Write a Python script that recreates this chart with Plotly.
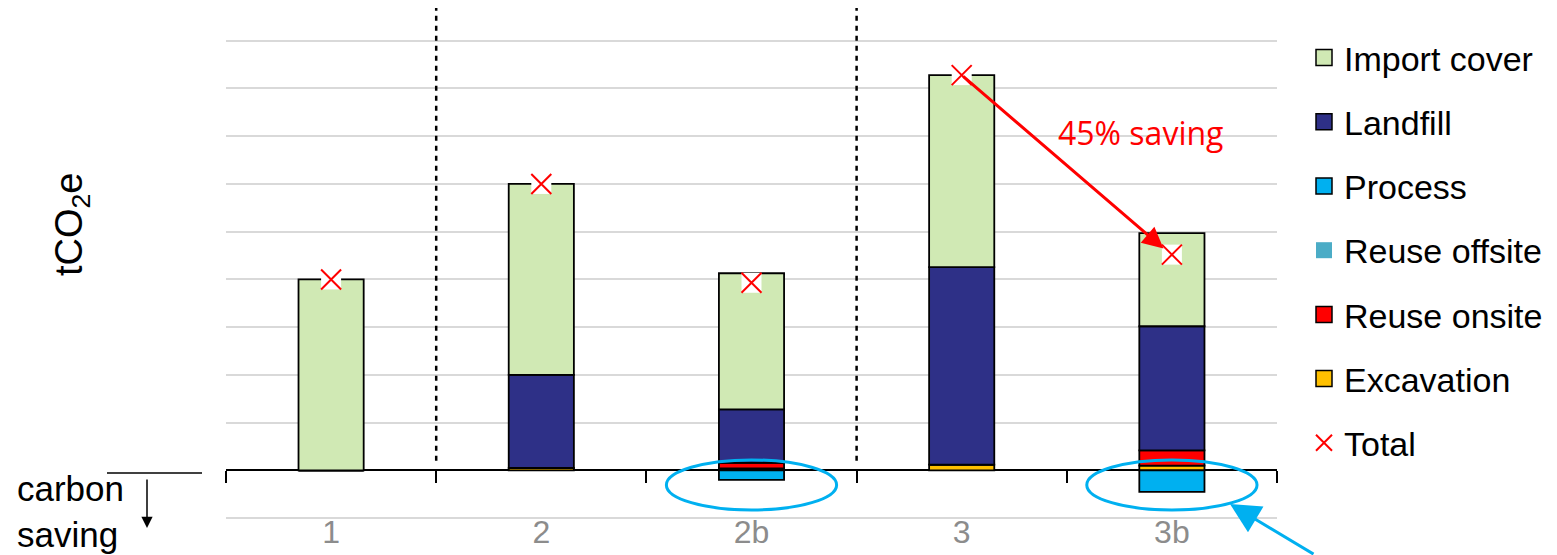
import plotly.graph_objects as go

# Scenarios and emission components (tCO2e, one gridline = 1 unit)
categories = ["1", "2", "2b", "3", "3b"]
excavation = [0.0, 0.05, 0.04, 0.12, 0.10]
reuse_onsite = [0.0, 0.0, 0.12, 0.0, 0.32]
reuse_offsite = [0.0, 0.0, 0.0, 0.0, 0.0]
process = [0.0, 0.0, -0.20, 0.0, -0.45]
landfill = [0.0, 1.95, 1.12, 4.14, 2.60]
import_cover = [4.00, 4.00, 2.85, 4.02, 1.95]
grid_values = list(range(-1, 10))

series = [
    ("Excavation", excavation, "#FFC000", True),
    ("Reuse onsite", reuse_onsite, "#FF0000", True),
    ("Reuse offsite", reuse_offsite, "#4BACC6", False),
    ("Process", process, "#00B0F0", True),
    ("Landfill", landfill, "#2E3087", True),
    ("Import cover", import_cover, "#D0E9B4", True),
]
total = [sum(vals[i] for _, vals, _, _ in series) for i in range(len(categories))]

W, H = 1557, 555
ML, MR, MT, MB = 226, 280, 8, 34
PW, PH = W - ML - MR, H - MT - MB
Y_MIN, Y_MAX = -1.06, 9.686


def px_x(px):
    return (px - ML) / PW


def px_y(py):
    return (H - MB - py) / PH


fig = go.Figure()

for name, vals, color, outlined in series:
    fig.add_trace(go.Bar(
        x=categories, y=vals, name=name, width=0.31,
        marker=dict(color=color, line=dict(color="black", width=1.8 if outlined else 0)),
        showlegend=False, hoverinfo="skip",
    ))

# white backing square behind each total marker
fig.add_trace(go.Scatter(
    x=categories, y=total, mode="markers", showlegend=False, hoverinfo="skip",
    marker=dict(symbol="square", size=20, color="white", line=dict(width=0)),
))
fig.add_trace(go.Scatter(
    x=categories, y=total, mode="markers", showlegend=False,
    marker=dict(symbol="x-thin", size=20, color="#FF0000", line=dict(color="#FF0000", width=2)),
))

# legend entries (top to bottom)
legend_items = [
    ("Import cover", "#D0E9B4", True),
    ("Landfill", "#2E3087", True),
    ("Process", "#00B0F0", True),
    ("Reuse offsite", "#4BACC6", False),
    ("Reuse onsite", "#FF0000", True),
    ("Excavation", "#FFC000", True),
]
for rank, (name, color, outlined) in enumerate(legend_items):
    fig.add_trace(go.Scatter(
        x=[None], y=[None], mode="markers", name=name, legendgroup=name,
        legendrank=rank + 1,
        marker=dict(symbol="square", size=16, color=color,
                    line=dict(color="black", width=1.5 if outlined else 0)),
    ))
fig.add_trace(go.Scatter(
    x=[None], y=[None], mode="markers", name="Total", legendgroup="Total",
    legendrank=10,
    marker=dict(symbol="x-thin", size=16, color="#FF0000", line=dict(color="#FF0000", width=2)),
))

# scenario group separators
for xb in [0.5, 2.5]:
    fig.add_shape(type="line", xref="x", yref="y", x0=xb, x1=xb, y0=0.2, y1=Y_MAX,
                  line=dict(color="black", width=2.5, dash="5px,5px"))

# highlight of the negative process emissions
for cx in [2, 4]:
    fig.add_shape(type="circle", xref="x", yref="y", x0=cx - 0.405, x1=cx + 0.405,
                  y0=-0.83, y1=0.22, line=dict(color="#00B0F0", width=3), layer="above")

# saving arrow between scenario 3 and 3b totals
fig.add_annotation(x=3.96, y=total[4] + 0.13, ax=3, ay=total[3], xref="x", yref="y",
                   axref="x", ayref="y", showarrow=True, arrowhead=2, arrowsize=1.4,
                   arrowwidth=3, arrowcolor="#FF0000", standoff=0, text="")
fig.add_annotation(x=3.85, y=7.08, xref="x", yref="y", showarrow=False,
                   text="45% saving", font=dict(family="Open Sans", size=32, color="#FF0000"))

# pointer arrow from the lower right
fig.add_annotation(x=px_x(1230), y=px_y(504), xref="paper", yref="paper",
                   ax=85, ay=60, showarrow=True, arrowhead=2, arrowsize=2,
                   arrowwidth=3, arrowcolor="#00B0F0", standoff=0, text="")

# axis title
fig.add_annotation(x=px_x(72), y=px_y(224), xref="paper", yref="paper", showarrow=False,
                   xanchor="center", yanchor="middle",
                   textangle=-90, text="tCO<sub>2</sub>e",
                   font=dict(family="Liberation Sans", size=38, color="black"))

# carbon saving note with downward arrow
fig.add_annotation(x=px_x(15), y=px_y(511), xref="paper", yref="paper", showarrow=False,
                   xanchor="left", yanchor="middle", align="left", text="carbon<br>saving",
                   font=dict(family="Liberation Sans", size=35, color="black"))
fig.add_shape(type="line", xref="paper", yref="paper", x0=px_x(107), x1=px_x(202),
              y0=px_y(473), y1=px_y(473), line=dict(color="black", width=1.5))
fig.add_annotation(x=px_x(147), y=px_y(528), xref="paper", yref="paper",
                   ax=0, ay=-50, showarrow=True, arrowhead=2, arrowsize=1.5,
                   arrowwidth=1.5, arrowcolor="black", standoff=0, text="")

fig.update_layout(
    width=W, height=H,
    margin=dict(l=ML, r=MR, t=MT, b=MB),
    barmode="relative",
    plot_bgcolor="white", paper_bgcolor="white",
    xaxis=dict(type="category", range=[-0.5, 4.5], showgrid=False, showline=False,
               ticks="", tickfont=dict(family="Liberation Sans", size=32, color="#8C8C8C"),
               zeroline=False, automargin=False, ticklabelstandoff=-11),
    xaxis2=dict(overlaying="x", anchor="free", position=(0 - Y_MIN) / (Y_MAX - Y_MIN),
                range=[-0.5, 4.5], tickmode="array",
                tickvals=[-0.5, 0.5, 1.5, 2.5, 3.5, 4.5], ticks="outside", ticklen=12,
                tickwidth=2, tickcolor="black", showticklabels=False, showgrid=False,
                showline=False, zeroline=False, side="bottom", automargin=False),
    yaxis=dict(range=[Y_MIN, Y_MAX], tickmode="array", tickvals=grid_values,
               showticklabels=False,
               showgrid=True, gridcolor="#D9D9D9", gridwidth=2, automargin=False,
               zeroline=True, zerolinecolor="black", zerolinewidth=2, showline=False),
    legend=dict(x=px_x(1304), xanchor="left", y=px_y(29), yanchor="top",
                traceorder="grouped", tracegroupgap=17,
                font=dict(family="Liberation Sans", size=34, color="black"),
                bgcolor="rgba(0,0,0,0)"),
    showlegend=True,
)

# an invisible trace keeps xaxis2 active
fig.add_trace(go.Scatter(x=[0], y=[None], xaxis="x2", showlegend=False, hoverinfo="skip"))

fig.write_html("out.html")
